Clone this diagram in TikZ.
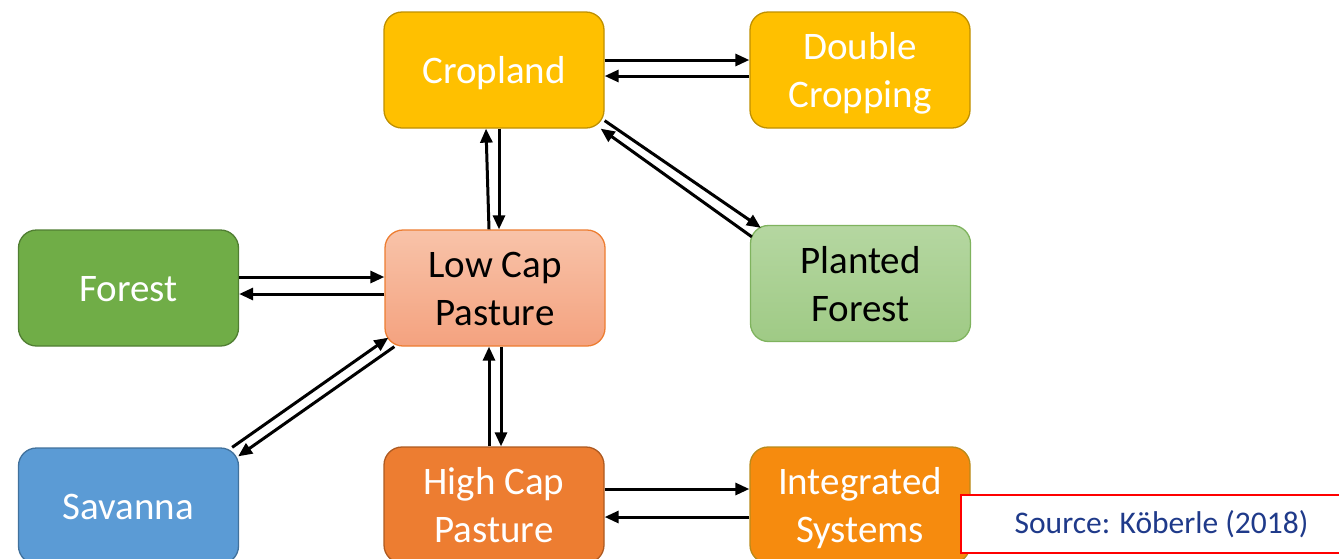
\documentclass[tikz,border=0pt]{standalone}
\usepackage{fontspec}
\setmainfont{Carlito}
\usetikzlibrary{arrows.meta}
\definecolor{cropfill}{HTML}{FFC000}
\definecolor{cropdraw}{HTML}{BF9000}
\definecolor{forfill}{HTML}{70AD47}
\definecolor{fordraw}{HTML}{507E32}
\definecolor{lowtop}{HTML}{F8C3A9}
\definecolor{lowbot}{HTML}{F4A27F}
\definecolor{lowdraw}{HTML}{ED7D31}
\definecolor{pltop}{HTML}{B5D7A1}
\definecolor{plbot}{HTML}{9FCA85}
\definecolor{pldraw}{HTML}{7FB35E}
\definecolor{savfill}{HTML}{5B9BD5}
\definecolor{savdraw}{HTML}{41719C}
\definecolor{hifill}{HTML}{ED7D31}
\definecolor{hidraw}{HTML}{AE5A21}
\definecolor{intfill}{HTML}{F68B0E}
\definecolor{intdraw}{HTML}{B98A1A}
\definecolor{srcblue}{HTML}{1F3A8A}
\newcommand\boxlbl[1]{\raisebox{-4pt}[\height][\depth]{\begin{tabular}{@{}c@{}}#1\end{tabular}}}
\tikzset{
  box/.style={rectangle, rounded corners=18pt, minimum width=220pt, minimum height=116pt,
    inner sep=0pt, line width=1.3pt, font=\fontsize{39}{48}\selectfont},
  arr/.style={line width=3pt, -{Triangle[length=14pt,width=12pt]}}
}
\begin{document}
\begin{tikzpicture}[x=1pt,y=-1pt]
\useasboundingbox (0,0) rectangle (1339,558);
\clip (0,0) rectangle (1339,558);
\node[box, fill=cropfill, draw=cropdraw, text=white] (crop) at (494,70) {\boxlbl{Cropland}};
\node[box, fill=cropfill, draw=cropdraw, text=white] (dbl) at (860,70) {\boxlbl{Double\\Cropping}};
\node[box, fill=forfill, draw=fordraw, text=white] (for) at (128.5,288) {\boxlbl{Forest}};
\node[box, top color=lowtop, bottom color=lowbot, draw=lowdraw, text=black] (low) at (495,288) {\boxlbl{Low Cap\\Pasture}};
\node[box, top color=pltop, bottom color=plbot, draw=pldraw, text=black] (pl) at (860.5,283.5) {\boxlbl{Planted\\Forest}};
\node[box, fill=savfill, draw=savdraw, text=white] (sav) at (128.5,506) {\boxlbl{Savanna}};
\node[box, fill=hifill, draw=hidraw, text=white] (hi) at (494,505) {\boxlbl{High Cap\\Pasture}};
\node[box, fill=intfill, draw=intdraw, text=white] (int) at (860,505) {\boxlbl{Integrated\\Systems}};
\node[rectangle, draw=red, line width=1.5pt, fill=white, minimum width=401pt, minimum height=58pt,
  inner sep=0pt, text=srcblue, font=\fontsize{31.5}{36}\selectfont] (src) at (1161.5,524) {Source: Köberle (2018)};
% Cropland <-> Double Cropping
\draw[arr] ([yshift=10pt]crop.east) -- ([yshift=10pt]dbl.west);
\draw[arr] ([yshift=-6pt]dbl.west) -- ([yshift=-6pt]crop.east);
% Forest <-> Low Cap
\draw[arr] ([yshift=11pt]for.east) -- ([yshift=11pt]low.west);
\draw[arr] ([yshift=-6pt]low.west) -- ([yshift=-6pt]for.east);
% Cropland <-> Low Cap
\draw[arr] ([xshift=-6pt]low.north) -- ([xshift=-8pt]crop.south);
\draw[arr] ([xshift=5pt]crop.south) -- ([xshift=4pt]low.north);
% Low Cap <-> High Cap
\draw[arr] ([xshift=-5pt]hi.north) -- ([xshift=-6pt]low.south);
\draw[arr] ([xshift=6pt]low.south) -- ([xshift=7pt]hi.north);
% High Cap <-> Integrated
\draw[arr] ([yshift=16pt]hi.east) -- ([yshift=16pt]int.west);
\draw[arr] ([yshift=-12pt]int.west) -- ([yshift=-12pt]hi.east);
% Cropland <-> Planted Forest
\draw[arr] ([yshift=8pt]crop.south east) -- ([xshift=11pt,yshift=-3pt]pl.north west);
\draw[arr] ([xshift=2pt,yshift=-12pt]pl.north west) -- ([xshift=-4pt]crop.south east);
% Savanna <-> Low Cap
\draw[arr] ([xshift=-7pt]sav.north east) -- ([xshift=4pt,yshift=9pt]low.south west);
\draw[arr] ([xshift=10pt]low.south west) -- ([xshift=-1pt,yshift=-9pt]sav.north east);
\end{tikzpicture}
\end{document}
